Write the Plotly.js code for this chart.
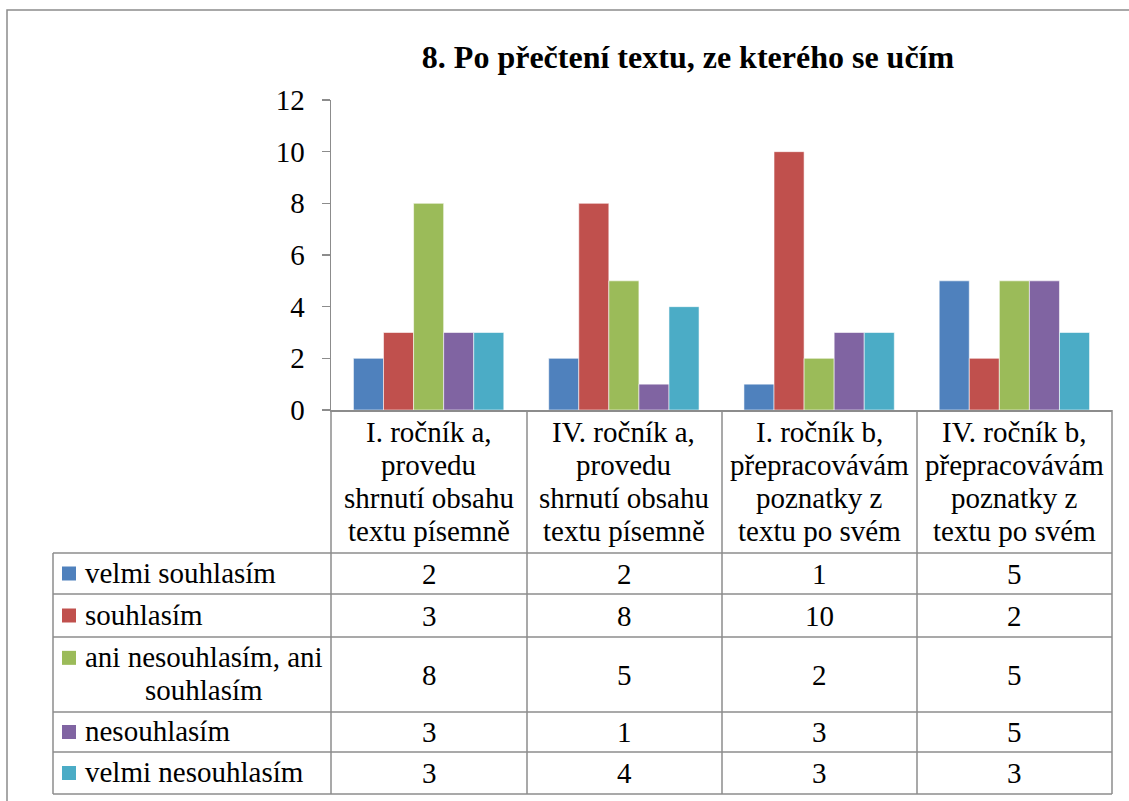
<!DOCTYPE html>
<html><head><meta charset="utf-8">
<script src="https://cdn.plot.ly/plotly-3.0.1.min.js"></script>
<style>html,body{margin:0;padding:0;background:#fff}</style>
</head><body><div id="chart" style="width:1129px;height:801px"></div>
<script>
// ---- data ----
const categories = [
  "I. ročník a, provedu shrnutí obsahu textu písemně",
  "IV. ročník a, provedu shrnutí obsahu textu písemně",
  "I. ročník b, přepracovávám poznatky z textu po svém",
  "IV. ročník b, přepracovávám poznatky z textu po svém"
];
const headerLines = [
  ["I. ročník a,", "provedu", "shrnutí obsahu", "textu písemně"],
  ["IV. ročník a,", "provedu", "shrnutí obsahu", "textu písemně"],
  ["I. ročník b,", "přepracovávám", "poznatky z", "textu po svém"],
  ["IV. ročník b,", "přepracovávám", "poznatky z", "textu po svém"]
];
const seriesNames = ["velmi souhlasím", "souhlasím", "ani nesouhlasím, ani souhlasím", "nesouhlasím", "velmi nesouhlasím"];
const seriesLabelLines = [["velmi souhlasím"], ["souhlasím"], ["ani nesouhlasím, ani", "souhlasím"], ["nesouhlasím"], ["velmi nesouhlasím"]];
const velmiSouhlasim = [2, 2, 1, 5];
const souhlasim = [3, 8, 10, 2];
const aniNesouhlasimAniSouhlasim = [8, 5, 2, 5];
const nesouhlasim = [3, 1, 3, 5];
const velmiNesouhlasim = [3, 4, 3, 3];
const seriesValues = [velmiSouhlasim, souhlasim, aniNesouhlasimAniSouhlasim, nesouhlasim, velmiNesouhlasim];
const colors = ["#4F81BD", "#C0504D", "#9BBB59", "#8064A2", "#4BACC6"];
const titleText = "8. Po přečtení textu, ze kterého se učím";

// ---- layout helpers (pixel -> paper) ----
const W = 1129, H = 801;
const px = x => x / W;
const py = y => 1 - y / H;
const FONT = "Liberation Serif";
const FS = 29;
const GRID = "#8c8c8c";

const traces = seriesNames.map((n, i) => ({
  type: "bar", name: n, x: categories, y: seriesValues[i],
  marker: {color: colors[i], line: {color: "rgba(255,255,255,0.7)", width: 0.8}},
  hoverinfo: "x+y+name"
}));

const colEdges = [331, 527, 722, 917, 1112];
const rowEdges = [553, 594, 637, 712, 752, 794];
const tableLeft = 53, headerTop = 410;

const shapes = [];
const annotations = [];
const line = (x0, y0, x1, y1) => shapes.push({type: "line", xref: "paper", yref: "paper",
  x0: px(x0), y0: py(y0), x1: px(x1), y1: py(y1), line: {color: GRID, width: 1.5}});
const textAt = (xref, x, yPix, text, xanchor) => annotations.push({
  xref: xref, yref: "paper", x: x, y: py(yPix), text: text, showarrow: false,
  xanchor: xanchor, yanchor: "middle", font: {family: FONT, size: FS, color: "#000"}});

// outer frame
shapes.push({type: "rect", xref: "paper", yref: "paper", x0: px(7), y0: py(10), x1: px(1140), y1: py(812),
  line: {color: GRID, width: 1.5}, fillcolor: "rgba(0,0,0,0)"});

// table verticals
colEdges.forEach(x => line(x, headerTop, x, rowEdges[rowEdges.length - 1]));
line(tableLeft, rowEdges[0], tableLeft, rowEdges[rowEdges.length - 1]);
// table horizontals
rowEdges.forEach(y => line(tableLeft, y, colEdges[colEdges.length - 1], y));

// header labels (one annotation per line, Excel-like line spacing)
const LS = 33.3;
categories.forEach((c, j) => headerLines[j].forEach((t, k) =>
  textAt("x", c, 431.5 + k * LS, t, "center")));

// rows
seriesNames.forEach((n, i) => {
  const yTop = rowEdges[i], yBot = rowEdges[i + 1];
  const yMid = (yTop + yBot) / 2;
  const lines = seriesLabelLines[i];
  const firstMid = lines.length > 1 ? yMid - LS / 2 - 1 : yMid - 1;
  shapes.push({type: "rect", xref: "paper", yref: "paper",
    x0: px(62), x1: px(76), y0: py(firstMid + 8), y1: py(firstMid - 6),
    fillcolor: colors[i], line: {width: 0}});
  lines.forEach((t, k) => {
    if (k === 0) textAt("paper", px(83), firstMid, t, "left");
    else textAt("paper", px(203.5), firstMid + k * LS, t, "center");
  });
  seriesValues[i].forEach((v, j) =>
    textAt("paper", px((colEdges[j] + colEdges[j + 1]) / 2), yMid, String(v), "center"));
});

const layout = {
  width: W, height: H,
  margin: {l: 0, r: 0, t: 0, b: 0},
  paper_bgcolor: "#fff", plot_bgcolor: "#fff",
  showlegend: false,
  barmode: "group", bargap: 0.23, bargroupgap: 0,
  title: {text: "<b>" + titleText + "</b>", x: px(688), xanchor: "center", y: py(57), yanchor: "middle",
    font: {family: FONT, size: 32, color: "#000"}},
  xaxis: {domain: [px(331), px(1112)], type: "category", showticklabels: false, ticks: "",
    showline: true, linecolor: GRID, linewidth: 1.5, showgrid: false, zeroline: false, fixedrange: true},
  yaxis: {domain: [py(410), py(100)], range: [0, 12], dtick: 2, ticks: "outside", ticklen: 8,
    tickcolor: GRID, tickwidth: 1.5, showline: true, linecolor: GRID, linewidth: 1.5, showgrid: false,
    zeroline: false, ticklabelstandoff: 11, tickfont: {family: FONT, size: FS, color: "#000"}, fixedrange: true},
  shapes: shapes,
  annotations: annotations
};

Plotly.newPlot("chart", traces, layout, {displayModeBar: false, staticPlot: true});
</script>
</body></html>
